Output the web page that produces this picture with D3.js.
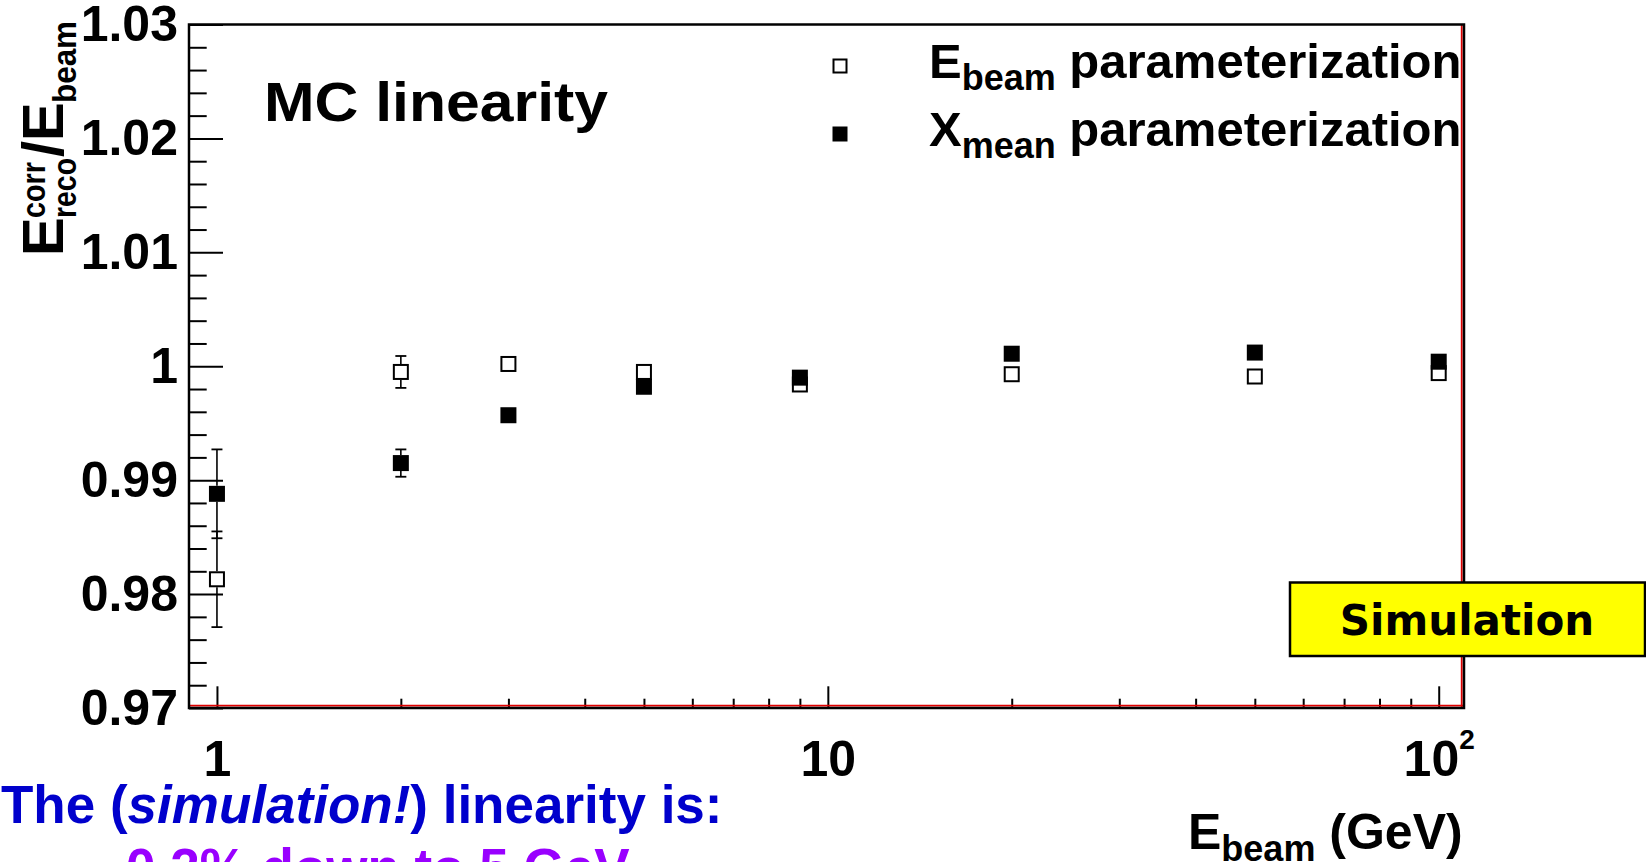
<!DOCTYPE html>
<html>
<head>
<meta charset="utf-8">
<script src="https://cdn.jsdelivr.net/npm/d3@7"></script>
<style>
  html, body { margin: 0; padding: 0; background: #fff; overflow: hidden; }
  svg { display: block; }
  text { font-family: "Liberation Sans", Arial, Helvetica, sans-serif; font-weight: bold; }
</style>
</head>
<body>
<svg id="chart" width="1646" height="862"></svg>
<script>
// Beam energies (GeV)
const energies = [1, 2, 3, 5, 9, 20, 50, 100];
// E_reco^corr / E_beam with the E_beam parameterization (open squares)
const ebeamRatio = [0.9813, 0.9995, 1.0002, 0.9995, 0.9984, 0.9993, 0.9991, 0.9994];
const ebeamErr   = [0.0042, 0.0014, 0.0005, 0.0004, 0.0003, 0.0003, 0.0002, 0.0002];
// E_reco^corr / E_beam with the X_mean parameterization (filled squares)
const xmeanRatio = [0.9888, 0.9915, 0.9957, 0.9982, 0.9990, 1.0011, 1.0012, 1.0004];
const xmeanErr   = [0.0039, 0.0012, 0.0005, 0.0004, 0.0003, 0.0003, 0.0002, 0.0002];

// Axis ticks
const yMajorTicks = [0.97, 0.98, 0.99, 1.00, 1.01, 1.02, 1.03];
const yTickLabels = ["0.97", "0.98", "0.99", "1", "1.01", "1.02", "1.03"];
const xMajorTicks = [1, 10, 100];
const xMinorTicks = [2, 3, 4, 5, 6, 7, 8, 9, 20, 30, 40, 50, 60, 70, 80, 90];

// Legend entries: main symbol, subscript, remaining text
const legendMain = ["E", "X"];
const legendSub  = ["beam", "mean"];
const legendRest = [" parameterization", " parameterization"];

const svg = d3.select("#chart");
const L = 189, R = 1464, T = 24.5, B = 708;

const x = d3.scaleLog().domain([0.9, 110]).range([L, R]);
const y = d3.scaleLinear().domain([0.97, 1.03]).range([B, T]);

// ---- Y axis: major ticks with labels, minor ticks every 0.002
const yMinor = d3.range(0, 31).map(i => 0.97 + i * 0.002)
  .filter(v => !yMajorTicks.some(m => Math.abs(m - v) < 1e-9));

const gyMinor = svg.append("g").attr("transform", `translate(${L},0)`)
  .call(d3.axisLeft(y).tickValues(yMinor).tickSize(-17.7).tickFormat(""));
const gy = svg.append("g").attr("transform", `translate(${L},0)`)
  .call(d3.axisLeft(y).tickValues(yMajorTicks).tickSize(-34).tickPadding(11)
        .tickFormat((d, i) => yTickLabels[i]));

// ---- X axis: decades labelled, minor ticks in between
const gxMinor = svg.append("g").attr("transform", `translate(0,${B})`)
  .call(d3.axisBottom(x).tickValues(xMinorTicks).tickSize(-9.3).tickFormat(""));
const gx = svg.append("g").attr("transform", `translate(0,${B})`)
  .call(d3.axisBottom(x).tickValues(xMajorTicks).tickSize(-21.7).tickPadding(32)
        .tickFormat(d => d === 100 ? "10" : String(d)));

gx.selectAll(".tick text").filter(d => d === 100)
  .append("tspan").attr("font-size", 28).attr("dy", -27).text("2");

[gy, gyMinor, gx, gxMinor].forEach(g => {
  g.select(".domain").remove();
  g.selectAll(".tick line").attr("stroke", "#000").attr("stroke-width", 2);
  g.selectAll(".tick text").attr("fill", "#000").attr("font-size", 50);
});

// ---- Frame
const frame = svg.append("g").attr("fill", "none");
frame.append("line").attr("x1", R - 2.3).attr("x2", R - 2.3).attr("y1", T).attr("y2", B)
  .attr("stroke", "#e00000").attr("stroke-width", 1.8);
frame.append("line").attr("x1", L).attr("x2", R).attr("y1", B - 2.3).attr("y2", B - 2.3)
  .attr("stroke", "#e00000").attr("stroke-width", 1.8);
frame.append("path")
  .attr("d", `M${L},${T}H${R}V${B}H${L}Z`)
  .attr("stroke", "#000").attr("stroke-width", 2.5);

// ---- Data points with error bars
const markerSize = 16;
const half = markerSize / 2;
const capW = 11;

function drawSeries(values, errs, filled) {
  const g = svg.append("g");
  energies.forEach((e, i) => {
    const cx = x(e), cy = y(values[i]);
    const up = y(values[i] + errs[i]), dn = y(values[i] - errs[i]);
    if (cy - up > half) {
      g.append("line").attr("x1", cx).attr("x2", cx).attr("y1", cy - half).attr("y2", up)
        .attr("stroke", "#000").attr("stroke-width", 1.6);
      g.append("line").attr("x1", cx - capW / 2).attr("x2", cx + capW / 2).attr("y1", up).attr("y2", up)
        .attr("stroke", "#000").attr("stroke-width", 1.8);
    }
    if (dn - cy > half) {
      g.append("line").attr("x1", cx).attr("x2", cx).attr("y1", cy + half).attr("y2", dn)
        .attr("stroke", "#000").attr("stroke-width", 1.6);
      g.append("line").attr("x1", cx - capW / 2).attr("x2", cx + capW / 2).attr("y1", dn).attr("y2", dn)
        .attr("stroke", "#000").attr("stroke-width", 1.8);
    }
    if (filled) {
      g.append("rect").attr("x", cx - half).attr("y", cy - half)
        .attr("width", markerSize).attr("height", markerSize).attr("fill", "#000");
    } else {
      g.append("rect").attr("x", cx - half + 1).attr("y", cy - half + 1)
        .attr("width", markerSize - 2).attr("height", markerSize - 2)
        .attr("fill", "none").attr("stroke", "#000").attr("stroke-width", 2);
    }
  });
}
drawSeries(ebeamRatio, ebeamErr, false);
drawSeries(xmeanRatio, xmeanErr, true);

// ---- Y axis title: E_reco^corr / E_beam (rotated)
const yt = svg.append("g").attr("transform", "translate(63,256) rotate(-90)").attr("fill", "#000");
yt.append("text").attr("x", 0).attr("y", 0).attr("font-size", 58).text("E");
yt.append("text").attr("x", 38).attr("y", 13).attr("font-size", 34)
  .attr("textLength", 60).attr("lengthAdjust", "spacingAndGlyphs").text("reco");
yt.append("text").attr("x", 38).attr("y", -18).attr("font-size", 34)
  .attr("textLength", 56).attr("lengthAdjust", "spacingAndGlyphs").text("corr");
yt.append("text").attr("x", 99).attr("y", 0).attr("font-size", 58).text("/");
yt.append("text").attr("x", 115).attr("y", 0).attr("font-size", 58).text("E");
yt.append("text").attr("x", 153).attr("y", 13).attr("font-size", 34)
  .attr("textLength", 82).attr("lengthAdjust", "spacingAndGlyphs").text("beam");

// ---- X axis title: E_beam (GeV)
const xt = svg.append("text").attr("x", 1188).attr("y", 849).attr("font-size", 50).attr("fill", "#000");
xt.append("tspan").text("E");
xt.append("tspan").attr("font-size", 36).attr("dy", 12).text("beam");
xt.append("tspan").attr("dy", -12).text(" (GeV)");

// ---- Label inside the frame
svg.append("text").attr("x", 264).attr("y", 121).attr("font-size", 55)
  .attr("textLength", 344).attr("lengthAdjust", "spacingAndGlyphs").text("MC linearity");

// ---- Legend
const legendY = [66, 134];
legendMain.forEach((m, i) => {
  const ly = legendY[i];
  const s = 15;
  if (i === 0) {
    svg.append("rect").attr("x", 840 - s / 2 + 1).attr("y", ly - s / 2 + 1)
      .attr("width", s - 2).attr("height", s - 2)
      .attr("fill", "none").attr("stroke", "#000").attr("stroke-width", 2);
  } else {
    svg.append("rect").attr("x", 840 - s / 2).attr("y", ly - s / 2)
      .attr("width", s).attr("height", s).attr("fill", "#000");
  }
  const t = svg.append("text").attr("x", 929).attr("y", ly + 12).attr("font-size", 49).attr("fill", "#000");
  t.append("tspan").text(m);
  t.append("tspan").attr("font-size", 36).attr("dy", 12).text(legendSub[i]);
  t.append("tspan").attr("dy", -12).text(legendRest[i]);
});

// ---- "Simulation" tag
svg.append("rect").attr("x", 1290).attr("y", 582.5).attr("width", 355).attr("height", 73.5)
  .attr("fill", "#ffff00").attr("stroke", "#000").attr("stroke-width", 2.5);
svg.append("text").attr("x", 1467).attr("y", 635).attr("text-anchor", "middle")
  .style("font-family", '"DejaVu Sans", Verdana, sans-serif').attr("font-size", 42)
  .attr("fill", "#000").text("Simulation");

// ---- Caption below the plot
const cap1 = svg.append("text").attr("x", 1).attr("y", 823).attr("font-size", 53).attr("fill", "#0000cc");
cap1.append("tspan").text("The (");
cap1.append("tspan").attr("font-style", "italic").text("simulation!");
cap1.append("tspan").text(") linearity is:");
svg.append("text").attr("x", 126).attr("y", 886).attr("font-size", 53).attr("fill", "#9900ff")
  .text("0.2% down to 5 GeV");
</script>
</body>
</html>
